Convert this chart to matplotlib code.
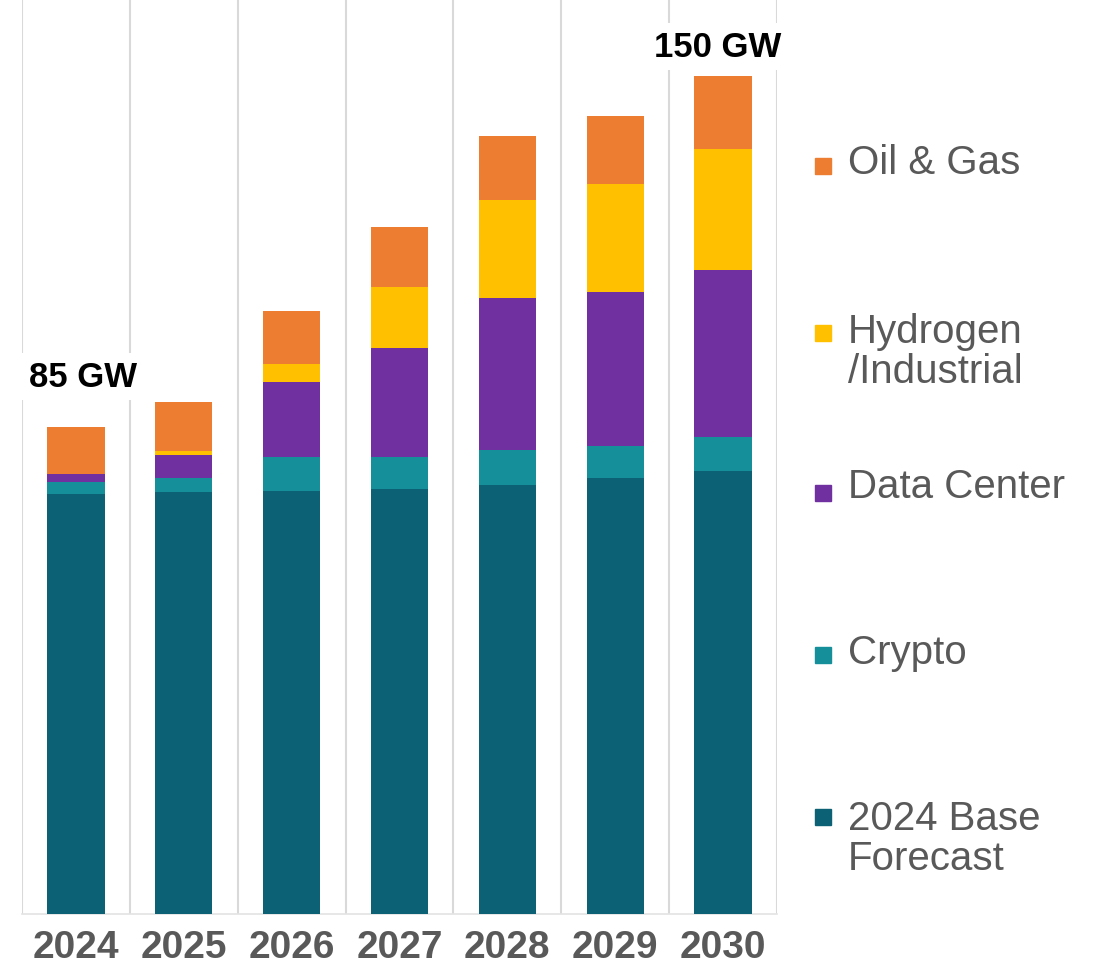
import numpy as np
import matplotlib.pyplot as plt
from matplotlib.patches import Rectangle

plt.rcParams['font.family'] = ['Liberation Sans', 'DejaVu Sans']

# Data (GW)
years = ['2024', '2025', '2026', '2027', '2028', '2029', '2030']
base = [75.2, 75.5, 75.7, 76.1, 76.8, 78.0, 79.3]
crypto = [2.1, 2.5, 6.1, 5.7, 6.3, 5.7, 6.1]
data_center = [1.5, 4.1, 13.4, 19.5, 27.2, 27.7, 29.9]
hydrogen = [0.0, 0.7, 3.2, 10.9, 17.5, 19.3, 21.7]
oil_gas = [8.3, 8.8, 9.5, 10.7, 11.5, 12.2, 13.1]

series = [base, crypto, data_center, hydrogen, oil_gas]
names = ['2024 Base\nForecast', 'Crypto', 'Data Center', 'Hydrogen\n/Industrial', 'Oil & Gas']
colors = ['#0D6175', '#15909B', '#7030A0', '#FFC000', '#ED7D31']

callouts = {0: '85 GW', 6: '150 GW'}

fig = plt.figure(figsize=(11.05, 9.70), dpi=100)
ax = fig.add_axes([22/1105, 55/970, 755/1105, 915/970])

x = np.arange(len(years))
bottom = np.zeros(len(years))
for vals, col in zip(series, colors):
    ax.bar(x, vals, width=0.53, bottom=bottom, color=col, zorder=3)
    bottom += np.array(vals)

ax.set_xlim(-0.5, len(years) - 0.5)
ax.set_ylim(0, 163.8)

# vertical separators between categories
ax.set_xticks(np.arange(-0.5, len(years), 1), minor=True)
ax.grid(which='minor', axis='x', color='#D9D9D9', linewidth=1.5, zorder=0)
ax.tick_params(which='minor', length=0)

ax.set_xticks(x)
ax.set_xticklabels(years, fontsize=28, fontweight='bold', color='#595959')
ax.tick_params(axis='x', length=0, pad=11)
ax.set_yticks([])
for s in ['left', 'right', 'top']:
    ax.spines[s].set_visible(False)
ax.spines['bottom'].set_color('#E3E3E3')
ax.spines['bottom'].set_linewidth(1.2)

# total callouts
offsets = {0: (5, 37), 6: (-4, 21)}
for i, txt in callouts.items():
    ax.annotate(txt, (x[i], bottom[i]), xytext=offsets[i], textcoords='offset points',
                ha='center', va='center', fontsize=25, fontweight='bold', color='black',
                bbox=dict(fc='white', ec='none', pad=5), zorder=5)

# legend on the right, top entry first
legend_y = [163, 352, 487, 653, 839]
square_y = [167, 334, 494, 656, 818]
for name, col, ty, sy in zip(names[::-1], colors[::-1], legend_y, square_y):
    fig.patches.append(Rectangle((815/1105, 1 - (sy + 8)/970), 16/1105, 16/970,
                                 transform=fig.transFigure, color=col, figure=fig))
    fig.text(848/1105, 1 - ty/970, name, fontsize=29, color='#595959',
             ha='left', va='center', linespacing=1.08)

fig.savefig('out.png', dpi=100, facecolor='white')
